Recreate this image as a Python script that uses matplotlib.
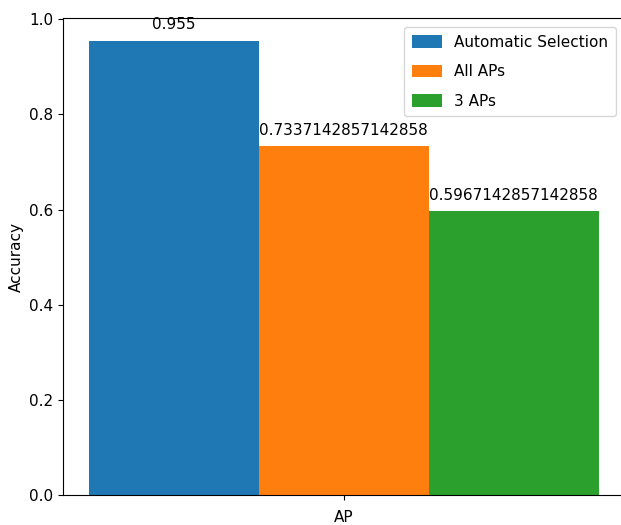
import matplotlib
matplotlib.use('Agg')
import matplotlib.pyplot as plt
import numpy as np

# datos
series = ["Automatic Selection", "All APs", "3 APs"]
valores = [0.955, 0.7337142857142858, 0.5967142857142858]
categoria = "AP"
colores = ["#1f77b4", "#ff7f0e", "#2ca02c"]

W, H = 621, 525
fig = plt.figure(figsize=(W / 100, H / 100), dpi=100)
ax = fig.add_axes([63 / W, 30 / H, 561 / W, 477 / H])

ancho = 1.0
x = np.array([0.0])
for i, (nombre, v) in enumerate(zip(series, valores)):
    barras = ax.bar(x + (i - 1) * ancho, [v], ancho, label=nombre, color=colores[i])
    ax.bar_label(barras, labels=[str(v)], padding=6, fontsize=11)

ax.set_xticks(x)
ax.set_xticklabels([""])
ax.set_ylabel("Accuracy", fontsize=11)
ax.tick_params(axis='y', labelsize=11)
ax.spines['right'].set_visible(False)
fig.text(344 / W, 1 - 517 / H, categoria, ha='center', va='center', fontsize=11)

ax.legend(loc='upper right', bbox_to_anchor=(616 / W, 1 - 27 / H),
          bbox_transform=fig.transFigure, borderaxespad=0, fontsize=11,
          labelspacing=0.95, handleheight=0.9, borderpad=0.5)

fig.savefig("out.png", dpi=100)
